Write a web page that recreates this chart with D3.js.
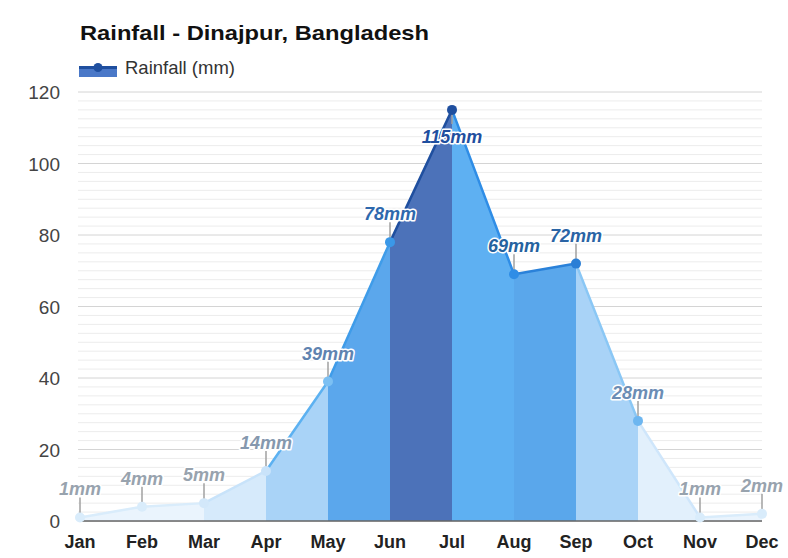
<!DOCTYPE html>
<html>
<head>
<meta charset="utf-8">
<script src="https://cdn.jsdelivr.net/npm/d3@7"></script>
<style>
  body { margin: 0; background: #fff; }
  svg { display: block; font-family: "Liberation Sans", Arial, sans-serif; }
</style>
</head>
<body>
<svg id="chart" width="788" height="558"></svg>
<script>
const months = ["Jan","Feb","Mar","Apr","May","Jun","Jul","Aug","Sep","Oct","Nov","Dec"];
const rainfall = [1, 4, 5, 14, 39, 78, 115, 69, 72, 28, 1, 2];
const yTicks = [0, 20, 40, 60, 80, 100, 120];

// colour per segment (month i -> month i+1), per point and per label
const segFill = ["#eaf4fd","#eaf4fd","#d6eafb","#a9d3f7","#5ba7ec","#4c72b9","#5eb0f2","#5aa7eb","#a9d3f7","#e2f0fc","#eaf4fd"];
const segLine = ["#d9ecfb","#d9ecfb","#c8e3fa","#5cb1f1","#3f9ce9","#1f4f9f","#2f8de6","#2a81d9","#8ac7f5","#cfe6fb","#d9ecfb"];
const pointColor = ["#d9ecfb","#d9ecfb","#d3e8fa","#c9e3fa","#7cc0f3","#3a98e8","#1f4f9f","#2f8de6","#2a7fd6","#6db6f0","#d9ecfb","#d9ecfb"];
const labelColor = ["#98a3ae","#98a3ae","#98a3ae","#8598ae","#5f83b0","#2e68ad","#1f4f9f","#25629f","#2a64a5","#6b8db5","#98a3ae","#98a3ae"];

function drawChart() {
    const svg = d3.select("#chart");
    const left = 80, right = 762, top = 92, bottom = 521;

    const x = d3.scalePoint().domain(months).range([left, right]);
    const y = d3.scaleLinear().domain([0, 120]).range([bottom, top]);

    // title + legend
    svg.append("text")
        .attr("x", 80).attr("y", 40)
        .attr("font-size", 21).attr("font-weight", "bold").attr("fill", "#111")
        .attr("textLength", 349).attr("lengthAdjust", "spacingAndGlyphs")
        .text("Rainfall - Dinajpur, Bangladesh");

    const lg = svg.append("g").attr("transform", "translate(79,66)");
    lg.append("rect").attr("x", 0).attr("y", 1).attr("width", 38).attr("height", 10).attr("fill", "#4a78c8");
    lg.append("line").attr("x1", 0).attr("x2", 38).attr("y1", 1.5).attr("y2", 1.5)
        .attr("stroke", "#1f4f9f").attr("stroke-width", 3);
    lg.append("circle").attr("cx", 19).attr("cy", 1.5).attr("r", 4.5).attr("fill", "#1f4f9f");
    lg.append("text").attr("x", 46).attr("y", 8)
        .attr("font-size", 18.5).attr("fill", "#333").text("Rainfall (mm)");

    // grid: minor every 2.5, major every 20
    const minor = d3.range(0, 120.1, 2.5);
    svg.append("g").selectAll("line")
        .data(minor)
        .join("line")
        .attr("x1", 78).attr("x2", right)
        .attr("y1", d => y(d)).attr("y2", d => y(d))
        .attr("stroke", d => d % 20 === 0 ? "#d4d4d4" : "#ececec")
        .attr("stroke-width", 1);

    // y labels
    svg.append("g").selectAll("text")
        .data(yTicks)
        .join("text")
        .attr("x", 60).attr("y", d => y(d) + 7)
        .attr("text-anchor", "end")
        .attr("font-size", 19).attr("fill", "#444")
        .text(d => d);

    // area segments
    const segs = d3.range(months.length - 1);
    const area = d3.area().x(d => d[0]).y0(bottom).y1(d => d[1]);
    svg.append("g").selectAll("path")
        .data(segs)
        .join("path")
        .attr("d", i => area([[x(months[i]), y(rainfall[i])], [x(months[i + 1]), y(rainfall[i + 1])]]))
        .attr("fill", i => segFill[i]);

    // baseline
    svg.append("line")
        .attr("x1", left).attr("x2", right)
        .attr("y1", bottom).attr("y2", bottom)
        .attr("stroke", "#666").attr("stroke-width", 1.5);

    // line segments
    svg.append("g").selectAll("line")
        .data(segs)
        .join("line")
        .attr("x1", i => x(months[i])).attr("y1", i => y(rainfall[i]))
        .attr("x2", i => x(months[i + 1])).attr("y2", i => y(rainfall[i + 1]))
        .attr("stroke", i => segLine[i])
        .attr("stroke-width", 2.5)
        .attr("stroke-linecap", "round");

    const peak = d3.max(rainfall);

    // label ticks
    svg.append("g").selectAll("line")
        .data(rainfall)
        .join("line")
        .attr("x1", (d, i) => x(months[i])).attr("x2", (d, i) => x(months[i]))
        .attr("y1", d => d === peak ? y(d) + 3 : y(d) - 3)
        .attr("y2", d => d === peak ? y(d) + 14 : y(d) - 20)
        .attr("stroke", "#a0a0a0").attr("stroke-width", 1.5);

    // points
    svg.append("g").selectAll("circle")
        .data(rainfall)
        .join("circle")
        .attr("cx", (d, i) => x(months[i]))
        .attr("cy", d => y(d))
        .attr("r", 5)
        .attr("fill", (d, i) => pointColor[i]);

    // value labels
    svg.append("g").selectAll("text")
        .data(rainfall)
        .join("text")
        .attr("x", (d, i) => x(months[i]))
        .attr("y", d => d === peak ? y(d) + 33 : y(d) - 22)
        .attr("text-anchor", "middle")
        .attr("font-size", 18).attr("font-weight", "bold").attr("font-style", "italic")
        .attr("fill", (d, i) => labelColor[i])
        .attr("stroke", "#fff").attr("stroke-width", 3).attr("stroke-linejoin", "round")
        .attr("paint-order", "stroke")
        .text(d => d + "mm");

    // x labels
    svg.append("g").selectAll("text")
        .data(months)
        .join("text")
        .attr("x", d => x(d)).attr("y", 548)
        .attr("text-anchor", "middle")
        .attr("font-size", 18).attr("font-weight", "bold").attr("fill", "#222")
        .text(d => d);
}

drawChart();
</script>
</body>
</html>
